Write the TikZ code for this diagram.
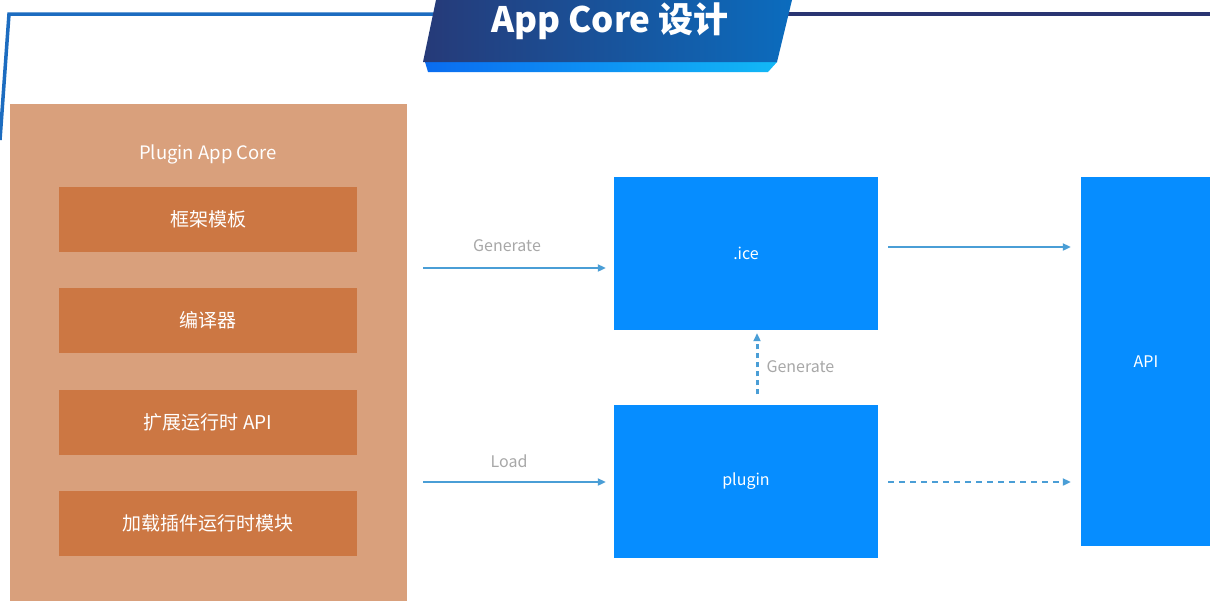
\documentclass[tikz,border=0pt]{standalone}
\usepackage{fontspec}
\setmainfont{Noto Sans CJK SC}
\usepackage{xcolor}
\usepackage{tikz}
\usetikzlibrary{positioning, arrows.meta}
\definecolor{coresand}{HTML}{D9A07C}
\definecolor{coreclay}{HTML}{CC7743}
\definecolor{boxblue}{HTML}{068DFF}
\definecolor{flowblue}{HTML}{4A9ED6}
\definecolor{labelgray}{HTML}{A8A8A8}
\definecolor{framenavy}{HTML}{2A3572}
\definecolor{frameblue}{HTML}{1C6CC0}
\definecolor{bannerdark}{HTML}{263A78}
\definecolor{bannerblue}{HTML}{0B6CBE}
\definecolor{stripblue}{HTML}{0A6CF0}
\definecolor{stripcyan}{HTML}{12B8F6}

\tikzset{
  modbox/.style={fill=coreclay, text=white, minimum width=298pt, minimum height=65pt,
                 inner sep=0pt, font=\fontsize{19}{21}\selectfont},
  bluebox/.style={fill=boxblue, text=white, inner sep=0pt, font=\fontsize{16}{18}\selectfont},
  flow/.style={flowblue, line width=2.4pt, -{Triangle[length=8pt,width=7pt]}},
  flowdash/.style={flow, dash pattern=on 6pt off 5pt},
  flowdot/.style={flow, line width=3pt, dash pattern=on 5pt off 4pt},
  flowlabel/.style={text=labelgray, font=\fontsize{16}{18}\selectfont}
}

\begin{document}
\begin{tikzpicture}[x=1pt, y=-1pt]
  \useasboundingbox (0,0) rectangle (1210,608);
  \fill[white] (0,0) rectangle (1210,608);

  % frame and title banner
  \draw[frameblue, line width=3.5pt] (0,140) -- (9,14) -- (440,14);
  \draw[framenavy, line width=3.5pt] (780,14) -- (1210,14);
  \shade[left color=stripblue, right color=stripcyan] (425,62) -- (777,62) -- (768,72) -- (428,72) -- cycle;
  \shade[left color=bannerdark, right color=bannerblue] (436,0) -- (792,0) -- (777,62) -- (423,62) -- cycle;
  \node[text=white, anchor=base, font=\bfseries\fontsize{35}{37}\selectfont] (title) at (610,32) {App Core 设计};

  % plugin app core
  \node[fill=coresand, minimum width=397pt, minimum height=497pt, inner sep=0pt] (core) at (208.5,352.5) {};
  \node[text=white, font=\fontsize{18.5}{20}\selectfont] (corename) at (208,154) {Plugin App Core};
  \node[modbox] (tpl) at (208,219) {框架模板};
  \node[modbox] (compiler) at (208,320.5) {编译器};
  \node[modbox] (rtapi) at (208,422) {扩展运行时 API};
  \node[modbox] (loader) at (208,523.5) {加载插件运行时模块};

  % outputs
  \node[bluebox, minimum width=264pt, minimum height=153pt] (ice) at (746,253.5) {.ice};
  \node[bluebox, minimum width=264pt, minimum height=153pt] (plugin) at (746,481) {plugin};
  \node[bluebox, minimum width=130pt, minimum height=369pt] (api) at (1146,361.5) {API};

  % connectors
  \coordinate (rowgen) at (0,268);
  \coordinate (rowload) at (0,482);
  \coordinate (rowice) at (0,247);
  \coordinate (colup) at (757,0);
  \draw[flow, shorten <=16pt, shorten >=8pt] (core.east |- rowgen) -- (ice.west |- rowgen);
  \draw[flow, shorten <=16pt, shorten >=8pt] (core.east |- rowload) -- (plugin.west |- rowload);
  \draw[flow, shorten <=10pt, shorten >=10pt] (ice.east |- rowice) -- (api.west |- rowice);
  \draw[flowdash, shorten <=10pt, shorten >=10pt] (plugin.east |- rowload) -- (api.west |- rowload);
  \draw[flowdot, shorten <=10pt, shorten >=3pt] (plugin.north -| colup) -- (ice.south -| colup);

  % labels
  \node[flowlabel] (genlabel) at (507,246) {Generate};
  \node[flowlabel] (loadlabel) at (509,461) {Load};
  \node[flowlabel, anchor=west] (genuplabel) at (763,367) {Generate};
\end{tikzpicture}
\end{document}
